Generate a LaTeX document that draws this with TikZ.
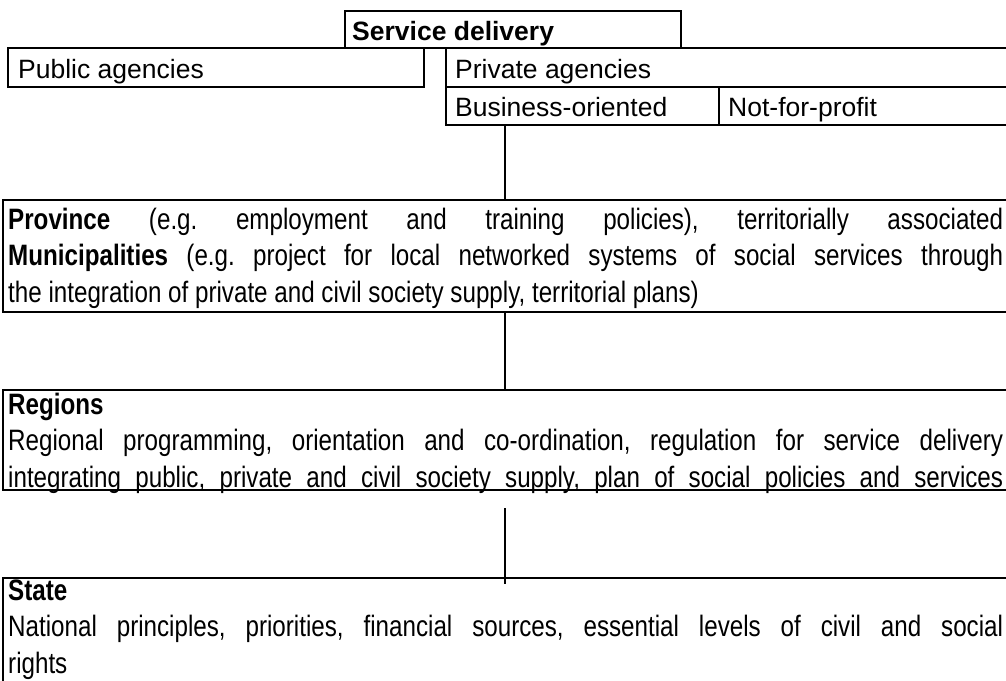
\documentclass[tikz,border=0pt]{standalone}
\usepackage{fontspec}
\setmainfont{Liberation Sans}
\newfontfamily\narrowfont{Liberation Sans}[FakeStretch=0.82]
\newcommand\jtext[1]{\parbox[t]{995pt}{\frenchspacing #1}}
\begin{document}
\begin{tikzpicture}[x=1pt,y=-1pt,
  frame/.style={line width=2.4pt, line cap=rect},
  link/.style={line width=1.2pt},
  lbl/.style={anchor=base west, inner sep=0pt, font=\fontsize{26.5}{36.5}\selectfont},
  para/.style={anchor=base west, inner sep=0pt, font=\narrowfont\fontsize{29.5}{36.5}\selectfont}]
\useasboundingbox (0,0) rectangle (1006,680);

% ---- frames ----
\draw[frame] (345,48) -- (345,11) -- (681,11) -- (681,48);
\draw[frame] (8,48) -- (1010,48);
\draw[frame] (8,48) -- (8,87) -- (424,87) -- (424,48);
\draw[frame] (446,48) -- (446,125) -- (1010,125);
\draw[frame] (446,87) -- (1010,87);
\draw[frame] (719,87) -- (719,125);
\draw[frame] (1010,200) -- (3,200) -- (3,312) -- (1010,312);
\draw[frame] (1010,390) -- (3,390) -- (3,490) -- (1010,490);
\draw[frame] (1010,578) -- (3,578) -- (3,690);

% ---- texts ----
\node[lbl] (sd) at (352,40) {\textbf{Service delivery}};
\node[lbl] (pub) at (18,78) {Public agencies};
\node[lbl] (priv) at (455,78) {Private agencies};
\node[lbl] (bus) at (455,116) {Business-oriented};
\node[lbl] (npo) at (728,116) {Not-for-profit};
\node[para] (prov) at (8,229) {\jtext{\textbf{Province} (e.g. employment and training policies), territorially associated\linebreak
\textbf{Municipalities} (e.g. project for local networked systems of social services through\linebreak
the integration of private and civil society supply, territorial plans)}};
\node[para] (reg) at (8,414) {\jtext{\parfillskip=0pt \textbf{Regions}\hfill\null\linebreak
Regional programming, orientation and co-ordination, regulation for service delivery\linebreak
integrating public, private and civil society supply, plan of social policies and services}};
\node[para] (state) at (8,600) {\jtext{\textbf{State}\\
National principles, priorities, financial sources, essential levels of civil and social\linebreak
rights}};

% ---- connectors ----
\coordinate (c1a) at (505,125);
\coordinate (c1b) at (505,200);
\coordinate (c2a) at (505,312);
\coordinate (c2b) at (505,390);
\coordinate (c3a) at (505,508);
\coordinate (c3b) at (505,584);
\draw[link] (c1a) -- (c1b);
\draw[link] (c2a) -- (c2b);
\draw[link] (c3a) -- (c3b);
\end{tikzpicture}
\end{document}
